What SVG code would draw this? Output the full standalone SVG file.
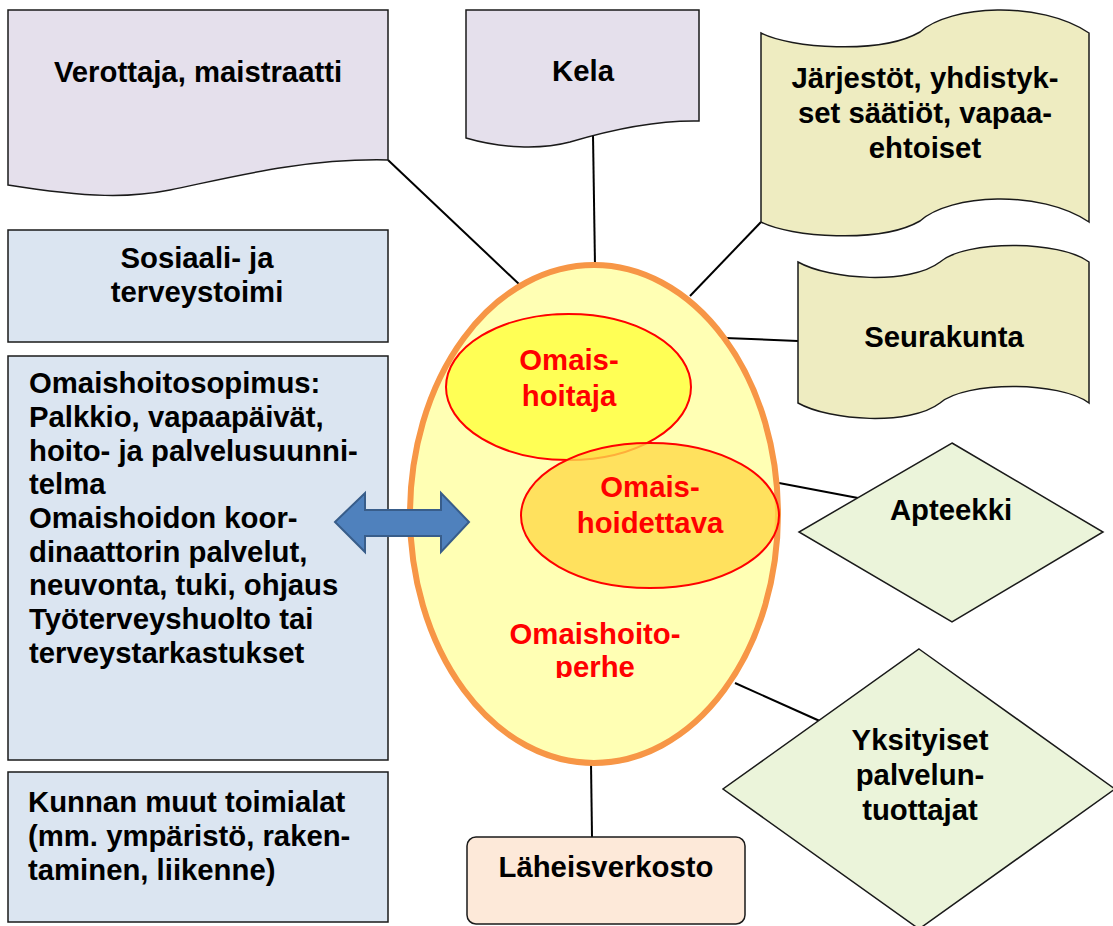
<svg xmlns="http://www.w3.org/2000/svg" width="1113" height="926" viewBox="0 0 1113 926">
<style>
text{font-family:"Liberation Sans",Arial,sans-serif;font-weight:bold;font-size:29.3px;fill:#000}
.c{text-anchor:middle}
.r{fill:#FF0000}
.box{stroke:#1a1a1a;stroke-width:1.5}
.lav{fill:#E5E0EC}
.blu{fill:#DBE5F1}
.olv{fill:#EEECC1}
.grn{fill:#EBF4DA}
.con{stroke:#000;stroke-width:2;fill:none}
</style>
<defs>
<clipPath id="clipPerhe"><rect x="400" y="600" width="400" height="78"/></clipPath>
</defs>
<rect width="1113" height="926" fill="#fff"/>
<g id="connectors">
<line class="con" x1="388" y1="160" x2="520" y2="285"/>
<line class="con" x1="593" y1="135" x2="595" y2="266"/>
<line class="con" x1="761" y1="222" x2="690" y2="296"/>
<line class="con" x1="725" y1="338" x2="798" y2="341"/>
<line class="con" x1="779" y1="483" x2="858" y2="498"/>
<line class="con" x1="735" y1="683" x2="822" y2="722"/>
<line class="con" x1="591" y1="763" x2="592" y2="837"/>
</g>
<g id="verottaja">
<path class="box lav" d="M8,10 H388 V160 C300,158 220,180 170,190 C130,198 90,198 8,185 Z"/>
<text class="c" x="198" y="82">Verottaja, maistraatti</text>
</g>
<g id="kela">
<path class="box lav" d="M466,10 H699 V121 C650,120 600,133 570,142 C540,150 500,148 466,138 Z"/>
<text class="c" x="583" y="81">Kela</text>
</g>
<g id="jarjestot">
<path class="box olv" d="M761,33 C790,48 880,55 920,32 C950,5 1040,0 1089,33 V222 C1040,189 950,194 920,221 C880,244 790,237 761,222 Z"/>
<text class="c" x="925" y="88">Järjestöt, yhdistyk-</text>
<text class="c" x="925" y="123">set säätiöt, vapaa-</text>
<text class="c" x="925" y="158">ehtoiset</text>
</g>
<g id="seurakunta">
<path class="box olv" d="M798,262 C830,280 910,285 940,262 C965,240 1060,240 1089,262 V403 C1060,381 965,381 940,403 C910,426 830,421 798,403 Z"/>
<text class="c" x="944" y="347">Seurakunta</text>
</g>
<g id="sosiaali">
<rect class="box blu" x="8" y="230" width="380" height="112"/>
<text class="c" x="197" y="268">Sosiaali- ja</text>
<text class="c" x="197" y="302">terveystoimi</text>
</g>
<g id="omaishoitosopimus">
<rect class="box blu" x="8" y="356" width="380" height="404"/>
<text x="29" y="393">Omaishoitosopimus:</text>
<text x="29" y="427">Palkkio, vapaapäivät,</text>
<text x="29" y="461">hoito- ja palvelusuunni-</text>
<text x="29" y="494">telma</text>
<text x="29" y="528">Omaishoidon koor-</text>
<text x="29" y="562">dinaattorin palvelut,</text>
<text x="29" y="595">neuvonta, tuki, ohjaus</text>
<text x="29" y="629">Työterveyshuolto tai</text>
<text x="29" y="663">terveystarkastukset</text>
</g>
<g id="kunnan">
<rect class="box blu" x="8" y="772" width="380" height="150"/>
<text x="28" y="812">Kunnan muut toimialat</text>
<text x="28" y="846">(mm. ympäristö, raken-</text>
<text x="28" y="880">taminen, liikenne)</text>
</g>
<g id="omaishoitoperhe">
<ellipse cx="594" cy="514" rx="184" ry="249" fill="#FFFFB4" stroke="#F79646" stroke-width="6"/>
<text class="c r" x="595" y="644">Omaishoito-</text>
<text class="c r" x="595" y="677" clip-path="url(#clipPerhe)">perhe</text>
</g>
<g id="omaishoitaja">
<ellipse cx="568.5" cy="387" rx="122.5" ry="73" fill="#FFFF55" stroke="#FF0000" stroke-width="2"/>
<text class="c r" x="569" y="370">Omais-</text>
<text class="c r" x="569" y="406">hoitaja</text>
</g>
<g id="omaishoidettava">
<ellipse cx="650" cy="515.5" rx="129" ry="72.5" fill="#FFDA48" fill-opacity="0.8" stroke="#FF0000" stroke-width="2"/>
<text class="c r" x="650" y="497">Omais-</text>
<text class="c r" x="650" y="533">hoidettava</text>
</g>
<g id="arrow">
<path d="M335,522 L365,493 V510 H441 V493 L469,522 L441,552 V536 H365 V552 Z" fill="#4F81BD" stroke="#385D8A" stroke-width="2"/>
</g>
<g id="apteekki">
<path class="box grn" d="M952,443 L1103,532 L952,622 L799,532 Z"/>
<text class="c" x="951" y="520">Apteekki</text>
</g>
<g id="yksityiset">
<path class="box grn" d="M919,649 L1115,789 L919,929 L723,789 Z"/>
<text class="c" x="920" y="750">Yksityiset</text>
<text class="c" x="920" y="785">palvelun-</text>
<text class="c" x="920" y="820">tuottajat</text>
</g>
<g id="laheisverkosto">
<rect class="box" x="467" y="837" width="278" height="87" rx="9" fill="#FDE9D9"/>
<text class="c" x="606" y="877">Läheisverkosto</text>
</g>
</svg>
